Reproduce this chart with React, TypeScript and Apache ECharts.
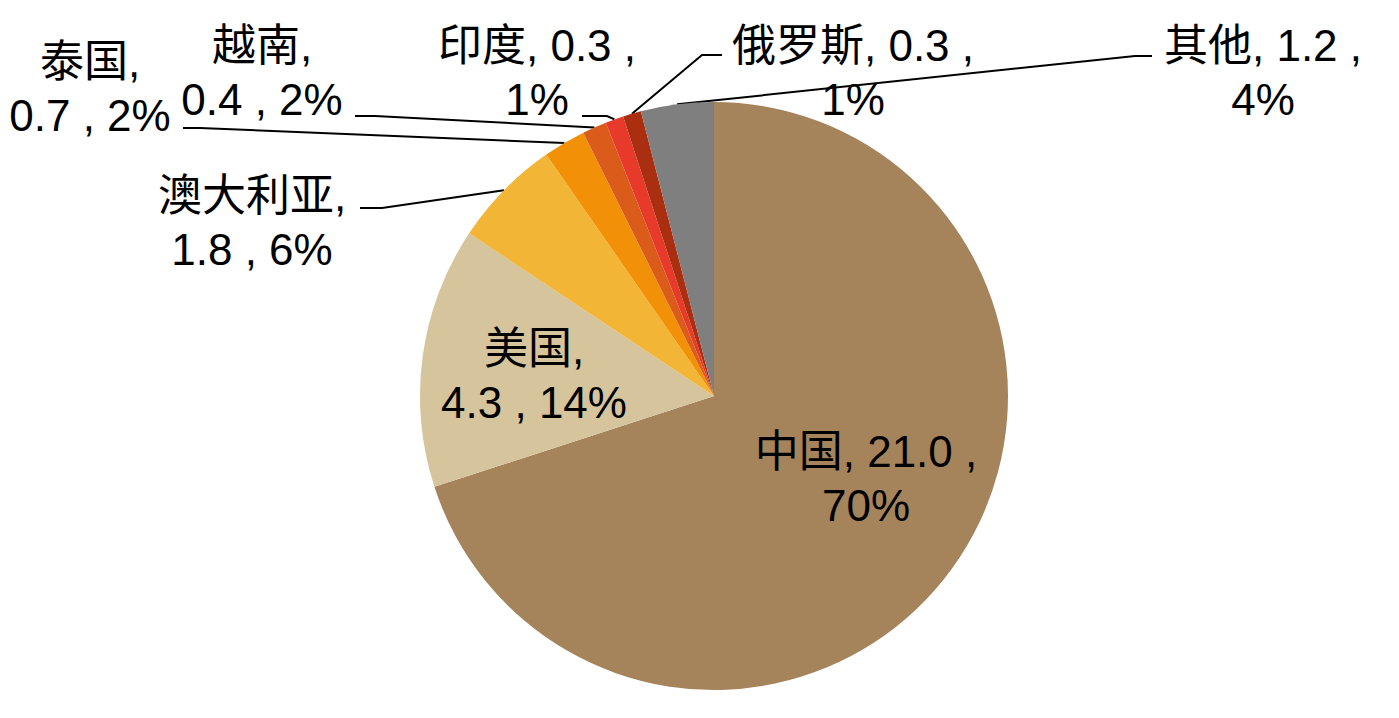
import React, { useEffect, useRef } from "react";
import * as echarts from "echarts";

const categories = ["中国", "美国", "澳大利亚", "泰国", "越南", "印度", "俄罗斯", "其他"];
const values = [21.0, 4.3, 1.8, 0.7, 0.4, 0.3, 0.3, 1.2];
const percents = [70, 14, 6, 2, 2, 1, 1, 4];
const breakAfterName = [false, true, true, true, true, false, false, false];
const insideLabel = [true, true, false, false, false, false, false, false];
const colors = ["#A5845C", "#D5C49C", "#F2B535", "#F29108", "#DB5B1B", "#E83A2B", "#A92F10", "#7F7F7F"];

// label block centres (px) and leader-line bend/end points (px)
const labelCenters = [
  [866, 478], [534, 375], [252, 222], [90, 88], [262, 72], [537, 72], [853, 72], [1263, 72],
];
const leaderBends: (number[][] | null)[] = [
  null, null,
  [[382, 208], [360, 208]],
  [[200, 128], [183, 128]],
  [[375, 116], [355, 116]],
  [[607, 116], [582, 116]],
  [[702, 55], [722, 55]],
  [[1135, 56], [1152, 56]],
];

export default function App() {
  const ref = useRef<HTMLDivElement>(null);
  useEffect(() => {
    if (!ref.current) return;
    const chart = echarts.init(ref.current, undefined, { renderer: "svg" });
    const data = categories.map((name, i) => ({
      name,
      value: values[i],
      itemStyle: { color: colors[i] },
      label: { position: insideLabel[i] ? "inside" : "outside" },
      labelLine: { show: !insideLabel[i] },
    }));
    chart.setOption({
      animation: false,
      backgroundColor: "#ffffff",
      series: [
        {
          type: "pie",
          center: [714, 396],
          radius: 294,
          startAngle: 90,
          clockwise: true,
          avoidLabelOverlap: false,
          data,
          label: {
            color: "#000",
            fontSize: 44,
            lineHeight: 54,
            fontFamily: "'Liberation Sans', 'Noto Sans CJK SC', sans-serif",
            formatter: (p: any) => {
              const i = p.dataIndex;
              const v = values[i].toFixed(1);
              const pc = percents[i] + "%";
              return breakAfterName[i]
                ? `${categories[i]},\n${v} , ${pc}`
                : `${categories[i]}, ${v} ,\n${pc}`;
            },
          },
          labelLine: {
            show: true,
            length: 20,
            length2: 20,
            lineStyle: { color: "#000", width: 2 },
          },
          labelLayout: (params: any) => {
            const i = params.dataIndex;
            const [x, y] = labelCenters[i];
            const res: any = { x, y, align: "center", verticalAlign: "middle" };
            const bends = leaderBends[i];
            if (bends && params.labelLinePoints && params.labelLinePoints[0]) {
              res.labelLinePoints = [params.labelLinePoints[0], ...bends];
            }
            return res;
          },
        },
      ],
    });
    return () => chart.dispose();
  }, []);
  return (
    <div
      ref={ref}
      style={{ position: "fixed", left: 0, top: 0, width: 1399, height: 718, background: "#fff" }}
    />
  );
}
